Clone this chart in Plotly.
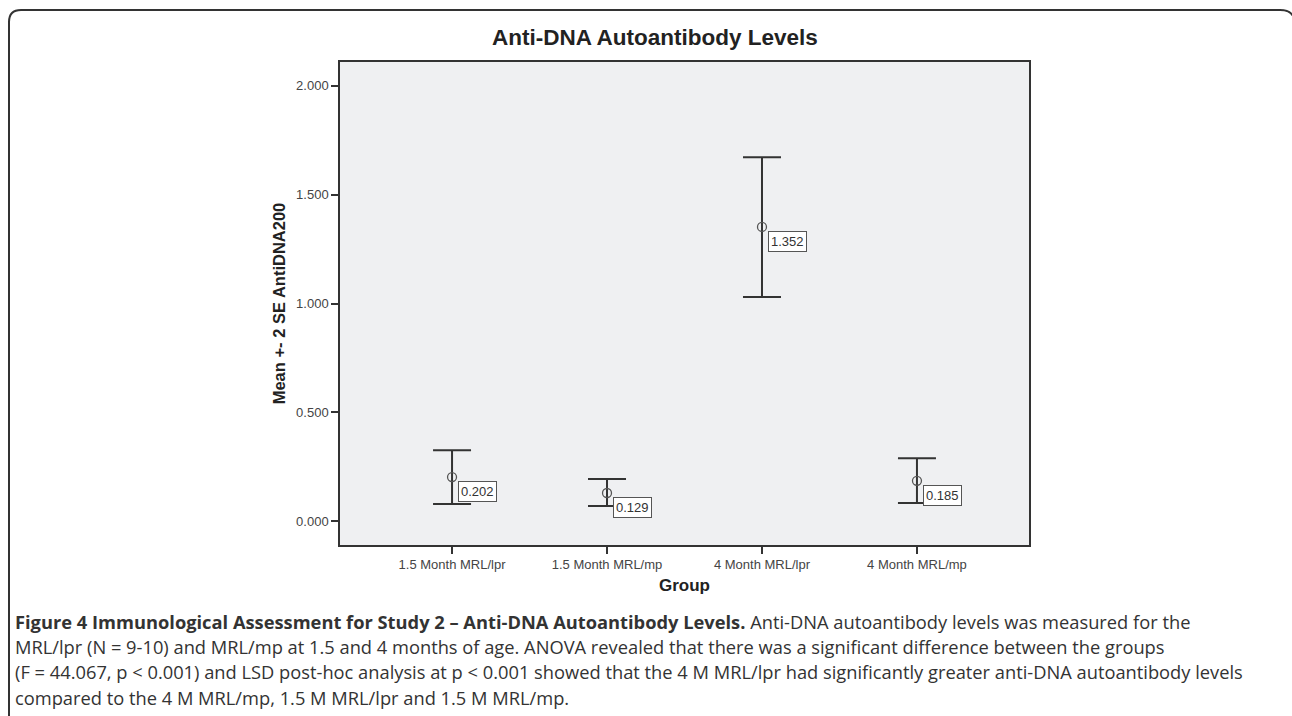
import plotly.graph_objects as go

# ---- data ----
groups = ["1.5 Month MRL/lpr", "1.5 Month MRL/mp", "4 Month MRL/lpr", "4 Month MRL/mp"]
means = [0.202, 0.129, 1.352, 0.185]
upper = [0.326, 0.193, 1.672, 0.289]   # mean + 2 SE
lower = [0.078, 0.069, 1.030, 0.083]   # mean - 2 SE
y_ticks = [0.0, 0.5, 1.0, 1.5, 2.0]
y_tick_labels = ["0.000", "0.500", "1.000", "1.500", "2.000"]

title = "Anti-DNA Autoantibody Levels"
y_title = "Mean +- 2 SE AntiDNA200"
x_title = "Group"
caption_lines = [
    "<b>Figure 4 Immunological Assessment for Study 2 – Anti-DNA Autoantibody Levels.</b> Anti-DNA autoantibody levels was measured for the",
    "MRL/lpr (N = 9-10) and MRL/mp at 1.5 and 4 months of age. ANOVA revealed that there was a significant difference between the groups",
    "(F = 44.067, p &lt; 0.001) and LSD post-hoc analysis at p &lt; 0.001 showed that the 4 M MRL/lpr had significantly greater anti-DNA autoantibody levels",
    "compared to the 4 M MRL/mp, 1.5 M MRL/lpr and 1.5 M MRL/mp.",
]

# ---- layout geometry (pixels) ----
W, H = 1292, 716
L, R, T, B = 340, 1029, 62, 545

def px(x):
    return (x - L) / (R - L)

def py(y):
    return (B - y) / (B - T)

x_idx = list(range(len(groups)))
err_plus = [u - m for u, m in zip(upper, means)]
err_minus = [m - l for m, l in zip(means, lower)]

fig = go.Figure()
fig.add_trace(go.Scatter(
    x=x_idx, y=means, mode="markers",
    marker=dict(symbol="circle-open", size=9, color="#555555", line=dict(width=1.3)),
    error_y=dict(type="data", symmetric=False, array=err_plus, arrayminus=err_minus,
                 color="#333333", thickness=2, width=19),
    showlegend=False, hoverinfo="skip",
))

SANS = "Liberation Sans, Arial, sans-serif"
axis_font = dict(family=SANS, size=13, color="#444444")

annotations = []
for xi, m in zip(x_idx, means):
    annotations.append(dict(
        x=xi, y=m, xref="x", yref="y", text=f"{m:.3f}", showarrow=False,
        xanchor="left", yanchor="top", xshift=6, yshift=-4,
        font=dict(family=SANS, size=13, color="#333333"),
        bgcolor="white", bordercolor="#555555", borderwidth=1, borderpad=2,
    ))

# chart title
annotations.append(dict(
    x=px(655), y=py(38), xref="paper", yref="paper", text=f"<b>{title}</b>",
    showarrow=False, xanchor="center", yanchor="middle",
    font=dict(family=SANS, size=22.5, color="#222222"),
))

# caption
cap_y = [621, 646, 671, 697]
for line, yy in zip(caption_lines, cap_y):
    annotations.append(dict(
        x=px(13), y=py(yy), xref="paper", yref="paper", text=line,
        showarrow=False, xanchor="left", yanchor="middle",
        font=dict(family="Open Sans, sans-serif", size=18.3, color="#333333"),
    ))

# frame (rounded top corners)
frame_path = (
    f"M {px(9)},{py(716)} L {px(9)},{py(22)} "
    f"Q {px(9)},{py(10)} {px(21)},{py(10)} "
    f"L {px(1280)},{py(10)} Q {px(1290)},{py(10)} {px(1293)},{py(16)}"
)

fig.update_layout(
    width=W, height=H,
    margin=dict(l=L, r=W - R, t=T, b=H - B),
    paper_bgcolor="white", plot_bgcolor="#eff0f2",
    annotations=annotations,
    shapes=[dict(type="path", path=frame_path, xref="paper", yref="paper",
                 line=dict(color="#333333", width=2))],
    xaxis=dict(
        range=[-0.723, 3.723], tickmode="array", tickvals=x_idx, ticktext=groups,
        ticks="outside", ticklen=7, tickwidth=1.5, tickcolor="#333333",
        showline=True, linecolor="#333333", linewidth=1.5, mirror=True,
        showgrid=False, zeroline=False, tickfont=axis_font,
        title=dict(text=f"<b>{x_title}</b>", standoff=8,
                   font=dict(family=SANS, size=17, color="#222222")),
    ),
    yaxis=dict(
        range=[-0.11, 2.11], tickmode="array", tickvals=y_ticks, ticktext=y_tick_labels,
        ticks="outside", ticklen=7, tickwidth=1.5, tickcolor="#333333",
        showline=True, linecolor="#333333", linewidth=1.5, mirror=True,
        showgrid=False, zeroline=False, tickfont=axis_font,
        title=dict(text=f"<b>{y_title}</b>", standoff=6,
                   font=dict(family=SANS, size=16.5, color="#222222")),
    ),
)

fig.write_html("out.html")
